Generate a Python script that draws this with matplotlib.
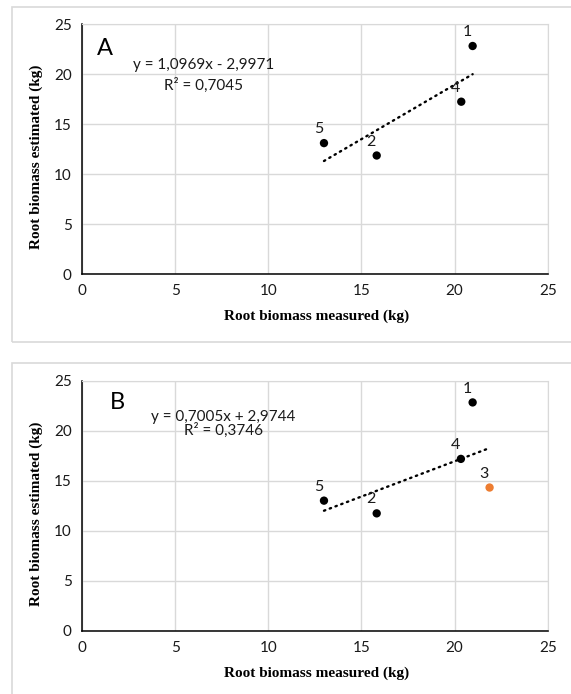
import numpy as np
import matplotlib
matplotlib.use("Agg")
import matplotlib.pyplot as plt
from matplotlib.patches import Rectangle

# Panel A data (points 1, 2, 4, 5)
ids_a = ["1", "2", "4", "5"]
x_a = [20.97, 15.82, 20.36, 12.99]
y_a = [22.80, 11.85, 17.23, 13.09]
eq_a = ["y = 1,0969x - 2,9971", "R² = 0,7045"]

# Panel B data (point 3 added, shown in orange)
ids_b = ["1", "2", "4", "5", "3"]
x_b = [20.97, 15.82, 20.34, 12.99, 21.88]
y_b = [22.83, 11.75, 17.19, 13.02, 14.33]
colors_b = ["black", "black", "black", "black", "#ED7D31"]
eq_b = ["y = 0,7005x + 2,9744", "R² = 0,3746"]

ticks = [0, 5, 10, 15, 20, 25]
xlabel = "Root biomass measured (kg)"
ylabel = "Root biomass estimated (kg)"

W, H = 571, 694
DPI = 100
fig = plt.figure(figsize=(W / DPI, H / DPI), dpi=DPI)
sans = ["Lato", "DejaVu Sans"]
serif = "Liberation Serif"


def px_box(left, top, right, bottom):
    return [left / W, 1 - bottom / H, (right - left) / W, (bottom - top) / H]


def panel(top, bottom, frame_top, frame_bottom, letter, letter_xy, eq, eq_xy,
          ids, xs, ys, cols):
    fig.patches.append(Rectangle((12 / W, 1 - frame_bottom / H), 1.0,
                                 (frame_bottom - frame_top) / H,
                                 transform=fig.transFigure, fill=False,
                                 edgecolor="#d9d9d9", linewidth=1.2))
    ax = fig.add_axes(px_box(82, top, 547.7, bottom))
    ax.set_xlim(0, 25)
    ax.set_ylim(0, 25)
    ax.set_xticks(ticks)
    ax.set_yticks(ticks)
    ax.grid(True, color="#d9d9d9", linewidth=1.0)
    ax.set_axisbelow(True)
    for s in ["top", "right"]:
        ax.spines[s].set_color("#d9d9d9")
    for s in ["left", "bottom"]:
        ax.spines[s].set_color("black")
        ax.spines[s].set_linewidth(1.1)
    ax.tick_params(length=0, labelsize=11, pad=7.5)
    for lab in ax.get_xticklabels() + ax.get_yticklabels():
        lab.set_family(sans)
        lab.set_color("#1a1a1a")

    # trendline over the data range
    coef = np.polyfit(xs, ys, 1)
    xx = np.array([min(xs), max(xs)])
    ax.plot(xx, np.polyval(coef, xx), color="black", linewidth=1.7,
            linestyle=(0, (0.6, 2.0)), dash_capstyle="round")

    ax.scatter(xs, ys, s=36, c=cols, zorder=3, linewidths=0)
    for t, x, y in zip(ids, xs, ys):
        ax.annotate(t, (x, y), xytext=(-4, 10), textcoords="offset points",
                    ha="center", va="center", fontsize=11.5, family=sans,
                    color="#1a1a1a")

    fig.text(letter_xy[0] / W, 1 - letter_xy[1] / H, letter, fontsize=17,
             family=sans, ha="center", va="center")
    fig.text(eq_xy[0] / W, 1 - eq_xy[1] / H, eq[0], fontsize=11,
             family=sans, ha="center", va="center", color="#1a1a1a")
    fig.text(eq_xy[0] / W, 1 - eq_xy[2] / H, eq[1], fontsize=11,
             family=sans, ha="center", va="center", color="#1a1a1a")

    fig.text(36.7 / W, 1 - (top + bottom) / 2 / H - 8 / H, ylabel,
             rotation=90, fontsize=11, family=serif, fontweight="bold",
             ha="center", va="center")
    fig.text(317 / W, 1 - (bottom + 42) / H, xlabel, fontsize=11,
             family=serif, fontweight="bold", ha="center", va="center")
    return ax


panel(24, 274, 7, 342, "A", (105, 48.3), eq_a, (204, 65, 85),
      ids_a, x_a, y_a, ["black"] * 4)
panel(380.7, 631, 363, 720, "B", (117.3, 402.7), eq_b, (223.5, 416.7, 430),
      ids_b, x_b, y_b, colors_b)

fig.savefig("out.png", dpi=DPI)
